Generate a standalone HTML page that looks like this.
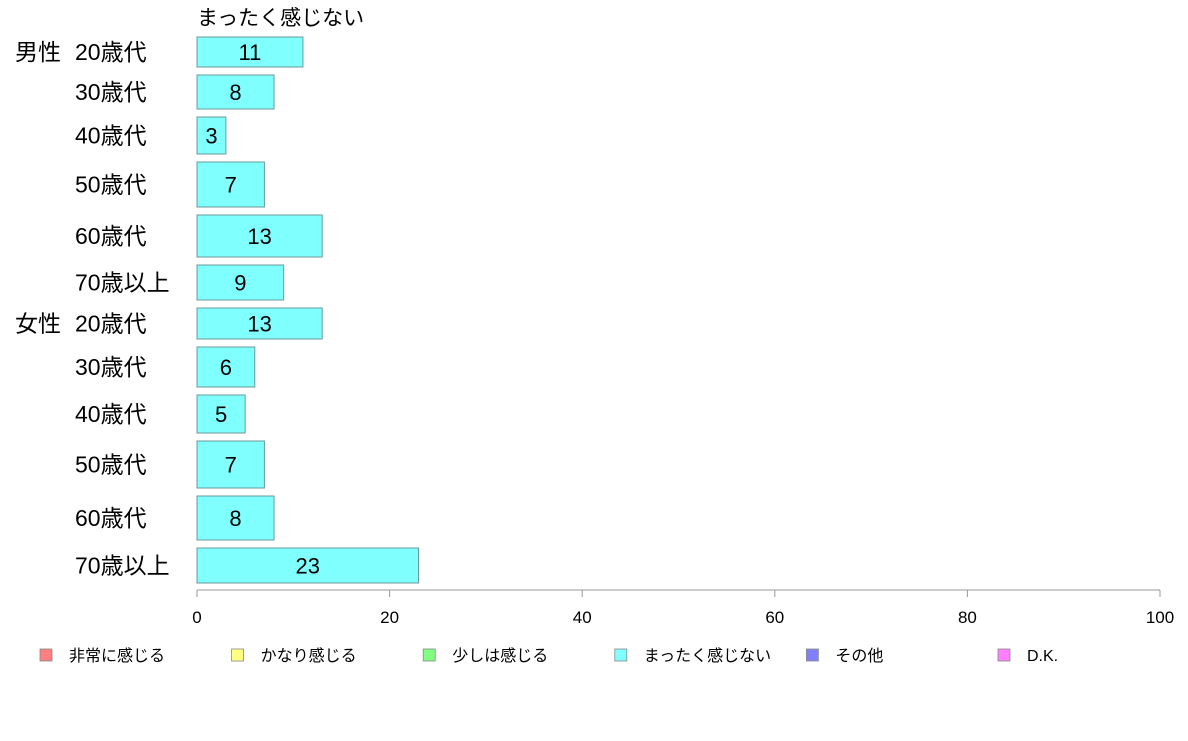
<!DOCTYPE html>
<html><head><meta charset="utf-8">
<style>
html,body{margin:0;padding:0;background:#fff;}
svg text{font-family:"Liberation Sans","Noto Sans CJK JP",sans-serif;}
</style></head>
<body>
<svg id="chart" width="1188" height="736" xmlns="http://www.w3.org/2000/svg">
<text x="197" y="25" font-size="21" fill="#000">まったく感じない</text>
<g id="bars"></g>
<g id="axis"></g>
<g id="legend"></g>
</svg>
<script>
const groups = ["男性","","","","","","女性","","","","",""];
const categories = ["20歳代","30歳代","40歳代","50歳代","60歳代","70歳以上","20歳代","30歳代","40歳代","50歳代","60歳代","70歳以上"];
const values = [11,8,3,7,13,9,13,6,5,7,8,23];
const bandWeights = [30,34,37,45,42,35,31,40,38,47,44,35];
const ticks = [0,20,40,60,80,100];
const legendLabels = ["非常に感じる","かなり感じる","少しは感じる","まったく感じない","その他","D.K."];
const legendColors = ["#ff8080","#ffff80","#80ff80","#80ffff","#8080ff","#ff80ff"];

const NS="http://www.w3.org/2000/svg";
const x0=197,x1=1160,topY=37,gap=8;
const xs=v=>x0+(v/100)*(x1-x0);
function mk(tag,attrs,parent){const e=document.createElementNS(NS,tag);for(const k in attrs)e.setAttribute(k,attrs[k]);parent.appendChild(e);return e;}
const bars=document.getElementById('bars');
let y=topY;
for(let i=0;i<values.length;i++){
  const h=bandWeights[i];
  const r=mk('rect',{x:x0,y:y,width:xs(values[i])-x0,height:h,fill:"#80ffff",stroke:"#6a9a9a","stroke-width":1},bars);
  
  
  const t=mk('text',{x:(x0+xs(values[i]))/2,y:y+h/2+8,"font-size":22,"text-anchor":"middle"},bars);
  t.textContent=values[i];
  
  
  const c=mk('text',{x:75,y:y+h/2+8,"font-size":23},bars);
  c.textContent=categories[i];
  
  
  if(groups[i]){
    const g=mk('text',{x:15,y:y+h/2+8,"font-size":23},bars);
    g.textContent=groups[i];
    
    
  }
  y+=h+gap;
}
const axis=document.getElementById('axis');
const ay=590;
mk('line',{x1:x0,x2:x1,y1:ay,y2:ay,stroke:"#999","stroke-width":1},axis);
ticks.forEach(v=>{
  const l=mk('line',{x1:xs(v),x2:xs(v),y1:ay,y2:ay+7,stroke:"#999"},axis);
  
  
  const t=mk('text',{x:xs(v),y:ay+33,"font-size":17,"text-anchor":"middle"},axis);
  t.textContent=v;
  
  
});
const legend=document.getElementById('legend');
legendLabels.forEach((lab,i)=>{
  const lx=40+i*191.6;
  const r=mk('rect',{x:lx,y:649,width:12,height:12,fill:legendColors[i],stroke:"#888","stroke-width":0.8},legend);
  
  
  const t=mk('text',{x:lx+29,y:661,"font-size":16},legend);
  t.textContent=lab;
  
  
});
</script>
</body></html>
